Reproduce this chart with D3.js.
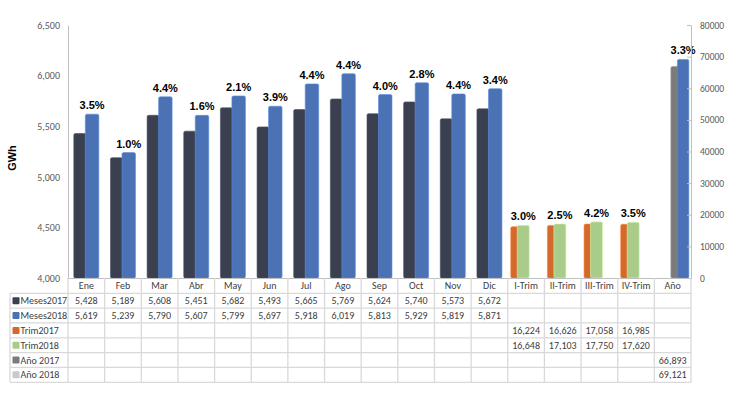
<!DOCTYPE html>
<meta charset="utf-8">
<script src="https://d3js.org/d3.v7.min.js"></script>
<style>
  body { margin: 0; background: #fff; }
  text { font-family: Carlito, Calibri, "Liberation Sans", Arial, sans-serif; }
  .pct { font-family: "Liberation Sans", Arial, sans-serif; font-weight: bold; font-size: 11px; fill: #000; }
  .tick text { fill: #595959; font-size: 10px; }
  .cell { font-size: 10px; fill: #404040; }
</style>
<div id="chart"></div>
<script>
// data
var cats = ["Ene","Feb","Mar","Abr","May","Jun","Jul","Ago","Sep","Oct","Nov","Dic",
            "I-Trim","II-Trim","III-Trim","IV-Trim","Año"];
var meses2017 = [5428,5189,5608,5451,5682,5493,5665,5769,5624,5740,5573,5672];
var meses2018 = [5619,5239,5790,5607,5799,5697,5918,6019,5813,5929,5819,5871];
var trim2017 = [16224,16626,17058,16985];
var trim2018 = [16648,17103,17750,17620];
var anio2017 = [66893];
var anio2018 = [69121];
var pctMeses = [3.5,1.0,4.4,1.6,2.1,3.9,4.4,4.4,4.0,2.8,4.4,3.4];
var pctTrim = [3.0,2.5,4.2,3.5];
var pctAnio = [3.3];
var leftTicks = [4000,4500,5000,5500,6000,6500];
var rightTicks = [0,10000,20000,30000,40000,50000,60000,70000,80000];

var W = 733, H = 393;
var mLeft = 68, mRight = 691, mTop = 25, mBottom = 278;
var rowH = 14.83, tableTop = 293.3, tableLeft = 10;

var svg = d3.select("#chart").append("svg")
  .attr("width", W).attr("height", H);

var x = d3.scaleBand().domain(cats).range([mLeft, mRight]).padding(0);
var y0 = d3.scaleLinear().domain([4000, 6500]).range([mBottom, mTop]);
var y1 = d3.scaleLinear().domain([0, 80000]).range([mBottom, mTop]);
var bw = x.bandwidth();

// series (for bars + table)
var series = [
  {name: "Meses2017", color: "#3a4050", key: "#3a4050", cats: cats.slice(0, 12), vals: meses2017, y: y0, off: bw/2 - 12.5, w: 12},
  {name: "Meses2018", color: "#4a72b4", key: "#4a72b4", cats: cats.slice(0, 12), vals: meses2018, y: y0, off: bw/2 - 1, w: 13.5},
  {name: "Trim2017", color: "#d4692b", key: "#d4692b", cats: cats.slice(12, 16), vals: trim2017, y: y1, off: 3, w: 12},
  {name: "Trim2018", color: "#a9cc8b", key: "#a9cc8b", cats: cats.slice(12, 16), vals: trim2018, y: y1, off: 9.5, w: 12},
  {name: "Año 2017", color: "#7b7b7b", key: "#7b7b7b", cats: ["Año"], vals: anio2017, y: y1, off: 16.5, w: 11},
  {name: "Año 2018", color: "#4a72b4", key: "#c9c9c9", cats: ["Año"], vals: anio2018, y: y1, off: 23, w: 11.5}
];

// bars
series.forEach(function(s) {
  svg.append("g").selectAll("rect")
    .data(s.vals)
    .enter().append("rect")
      .attr("x", function(d, i) { return x(s.cats[i]) + s.off; })
      .attr("y", function(d) { return s.y(d); })
      .attr("width", s.w)
      .attr("height", function(d) { return mBottom - s.y(d); })
      .attr("rx", 1.5)
      .attr("fill", s.color)
      .attr("stroke", d3.color(s.color).brighter(0.6))
      .attr("stroke-width", 0.6);
});

// percent labels over the 2018 bars
function pctLabels(s, pcts) {
  svg.append("g").selectAll("text")
    .data(pcts)
    .enter().append("text")
      .attr("class", "pct")
      .attr("x", function(d, i) { return x(s.cats[i]) + s.off + s.w/2; })
      .attr("y", function(d, i) { return s.y(s.vals[i]) - 5; })
      .attr("text-anchor", "middle")
      .text(function(d) { return d.toFixed(1) + "%"; });
}
pctLabels(series[1], pctMeses);
pctLabels(series[3], pctTrim);
pctLabels(series[5], pctAnio);

// left axis
var gl = svg.append("g")
  .attr("transform", "translate(" + mLeft + ",0)")
  .call(d3.axisLeft(y0).tickValues(leftTicks).tickFormat(d3.format(",")).tickSizeInner(0).tickSizeOuter(0).tickPadding(8));
gl.select(".domain").attr("stroke", "#bfbfbf");

// right axis
var gr = svg.append("g")
  .attr("transform", "translate(" + mRight + ",0)")
  .call(d3.axisRight(y1).tickValues(rightTicks).tickFormat(d3.format("d")).tickSizeInner(-4).tickSizeOuter(0).tickPadding(9));
gr.select(".domain").attr("stroke", "#bfbfbf");
gr.selectAll(".tick line").attr("stroke", "#bfbfbf");
gr.selectAll(".tick text").style("font-size", "9.5px");

// y title
svg.append("text")
  .attr("transform", "translate(16,158) rotate(-90)")
  .attr("text-anchor", "middle")
  .style("font-family", "'Liberation Sans', Arial, sans-serif")
  .style("font-weight", "bold")
  .style("font-size", "11px")
  .text("GWh");

// category axis (header row of the data table)
var gb = svg.append("g")
  .attr("transform", "translate(0," + mBottom + ")")
  .call(d3.axisBottom(x).tickSize(0).tickPadding(4));
gb.select(".domain").attr("stroke", "#bfbfbf");
gb.selectAll(".tick text").style("fill", "#404040");

// data table grid
var grid = svg.append("g").attr("stroke", "#d9d9d9").attr("stroke-width", 1.3);
d3.range(series.length + 1).forEach(function(r) {
  grid.append("line")
    .attr("x1", tableLeft).attr("x2", mRight)
    .attr("y1", tableTop + r * rowH).attr("y2", tableTop + r * rowH);
});
d3.range(cats.length + 1).forEach(function(c) {
  var xx = c < cats.length ? x(cats[c]) : mRight;
  grid.append("line")
    .attr("x1", xx).attr("x2", xx)
    .attr("y1", mBottom).attr("y2", tableTop + series.length * rowH);
});
grid.append("line")
  .attr("x1", tableLeft).attr("x2", tableLeft)
  .attr("y1", tableTop).attr("y2", tableTop + series.length * rowH);

// table rows: legend key + values
series.forEach(function(s, r) {
  var cy = tableTop + r * rowH + rowH/2;
  svg.append("rect")
    .attr("x", 12.5).attr("y", cy - 3.5)
    .attr("width", 7).attr("height", 7)
    .attr("rx", 1)
    .attr("fill", s.key);
  svg.append("text")
    .attr("class", "cell")
    .attr("x", 20.5).attr("y", cy)
    .attr("dy", "0.35em")
    .text(s.name);
  svg.append("g").selectAll("text")
    .data(s.vals)
    .enter().append("text")
      .attr("class", "cell")
      .attr("x", function(d, i) { return x(s.cats[i]) + bw/2; })
      .attr("y", cy)
      .attr("dy", "0.35em")
      .attr("text-anchor", "middle")
      .text(function(d) { return d3.format(",")(d); });
});
</script>
